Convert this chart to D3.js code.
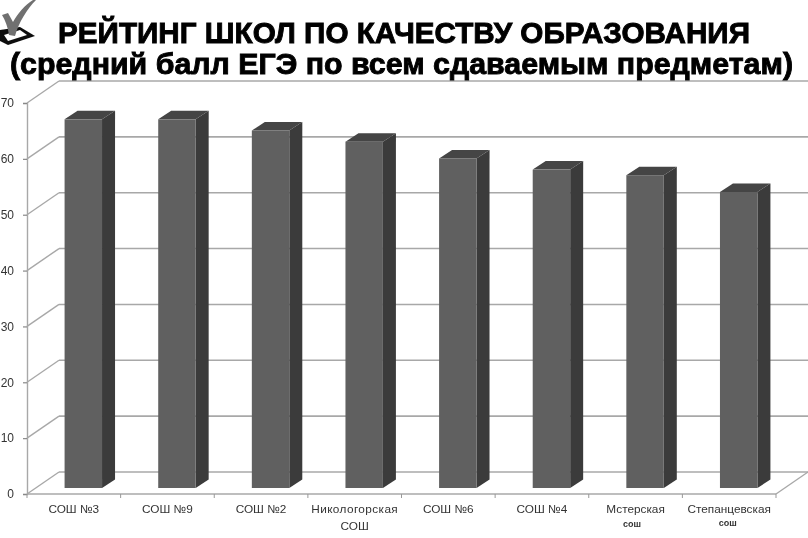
<!DOCTYPE html>
<html>
<head>
<meta charset="utf-8">
<script src="https://cdn.jsdelivr.net/npm/d3@7"></script>
<style>
    html, body { margin: 0; padding: 0; background: #fff; }
    svg { display: block; font-family: "Liberation Sans", Arial, sans-serif; }
</style>
</head>
<body>
<svg id="chart" width="808" height="538"></svg>
<script>
// Data
const schools = ["СОШ №3", "СОШ №9", "СОШ №2", "Никологорская СОШ", "СОШ №6", "СОШ №4", "Мстерская СОШ", "Степанцевская СОШ"];
const scores = [66, 66, 64, 62, 59, 57, 56, 53];
const yTicks = [0, 10, 20, 30, 40, 50, 60, 70];
const titleLines = ["РЕЙТИНГ ШКОЛ ПО КАЧЕСТВУ ОБРАЗОВАНИЯ", "(средний балл ЕГЭ по всем сдаваемым предметам)"];

const svg = d3.select("#chart");

// 3D box layout: front plane of the axes plus the offset of the back wall
const plot = { left: 27, right: 776, top: 103, bottom: 494 };
const wall = { dx: 32, dy: -22 };
const depth = { dx: 13, dy: -8.5 };
const barShift = { dx: 9.5, dy: -6 };

const x = d3.scaleBand().domain(schools).range([plot.left, plot.right]).paddingInner(0).paddingOuter(0);
const y = d3.scaleLinear().domain([0, 70]).range([plot.bottom, plot.top]);
const barWidth = x.bandwidth() * 0.4;

// Blur, the reference is a resampled photo of a slide
const defs = svg.append("defs");
defs.append("filter").attr("id", "soft").append("feGaussianBlur").attr("stdDeviation", 0.5);

const g = svg.append("g").attr("filter", "url(#soft)");

// Back wall gridlines and the slanted lines on the side wall
const grid = g.append("g");
grid.selectAll("line.back")
    .data(yTicks)
    .enter()
    .append("line")
    .attr("class", "back")
    .attr("x1", plot.left + wall.dx)
    .attr("x2", 808)
    .attr("y1", d => y(d) + wall.dy)
    .attr("y2", d => y(d) + wall.dy)
    .attr("stroke", "#a8a8a8")
    .attr("stroke-width", 1.6);

grid.selectAll("line.side")
    .data(yTicks)
    .enter()
    .append("line")
    .attr("class", "side")
    .attr("x1", plot.left)
    .attr("x2", plot.left + wall.dx)
    .attr("y1", d => y(d))
    .attr("y2", d => y(d) + wall.dy)
    .attr("stroke", "#a8a8a8")
    .attr("stroke-width", 1.4);

// Floor edge on the right
grid.append("line")
    .attr("x1", plot.right)
    .attr("x2", plot.right + wall.dx)
    .attr("y1", plot.bottom)
    .attr("y2", plot.bottom + wall.dy)
    .attr("stroke", "#a8a8a8")
    .attr("stroke-width", 1.4);

// Bars
const bars = g.selectAll("g.bar")
    .data(schools.map((s, i) => ({ school: s, score: scores[i] })))
    .enter()
    .append("g")
    .attr("class", "bar");

const barX = d => x(d.school) + (x.bandwidth() - barWidth) / 2 + barShift.dx;
const barY0 = y(0) + barShift.dy;
const barY1 = d => y(d.score) + barShift.dy;

// side face
bars.append("path")
    .attr("fill", "#3a3a3a")
    .attr("d", d => {
        const r = barX(d) + barWidth;
        return d3.line()([[r, barY1(d)], [r + depth.dx, barY1(d) + depth.dy], [r + depth.dx, barY0 + depth.dy], [r, barY0]]) + "Z";
    });

// top face
bars.append("path")
    .attr("fill", "#444444")
    .attr("d", d => {
        const l = barX(d), r = l + barWidth, t = barY1(d);
        return d3.line()([[l, t], [l + depth.dx, t + depth.dy], [r + depth.dx, t + depth.dy], [r, t]]) + "Z";
    });

// front face
bars.append("rect")
    .attr("x", barX)
    .attr("y", barY1)
    .attr("width", barWidth)
    .attr("height", d => barY0 - barY1(d))
    .attr("fill", "#606060");

// Y axis
const yAxis = g.append("g")
    .attr("transform", `translate(${plot.left},0)`)
    .call(d3.axisLeft(y).tickValues(yTicks).tickSize(4).tickPadding(9));
yAxis.select(".domain").attr("stroke", "#a8a8a8").attr("stroke-width", 1.4);
yAxis.selectAll(".tick line").attr("stroke", "#888").attr("stroke-width", 1.2);
yAxis.selectAll("text")
    .attr("fill", "#333")
    .style("font-family", "'Liberation Sans', Arial, sans-serif")
    .style("font-size", "12px");

// X axis, the tick marks sit on band borders so they are drawn by hand
const xAxis = g.append("g")
    .attr("transform", `translate(0,${plot.bottom})`);
xAxis.append("line")
    .attr("x1", plot.left)
    .attr("x2", plot.right)
    .attr("stroke", "#a8a8a8")
    .attr("stroke-width", 1.4);
xAxis.selectAll("line.tick")
    .data(schools.concat(null))
    .enter()
    .append("line")
    .attr("class", "tick")
    .attr("x1", (d, i) => plot.left + i * x.step())
    .attr("x2", (d, i) => plot.left + i * x.step())
    .attr("y1", 0)
    .attr("y2", 4)
    .attr("stroke", "#999")
    .attr("stroke-width", 1);

// Category labels
const labels = g.append("g");
const labelSize = "11.8px";
schools.forEach((name, i) => {
    const cx = x(name) + x.bandwidth() / 2;
    const m = name.match(/^(.*) (СОШ)$/);
    if (!m) {
        labels.append("text").attr("x", cx).attr("y", 513).attr("text-anchor", "middle")
            .style("font-size", labelSize).attr("fill", "#333").text(name);
    } else if (i === 3) {
        labels.append("text").attr("x", cx).attr("y", 513).attr("text-anchor", "middle")
            .style("font-size", labelSize).style("letter-spacing", "0.4px").attr("fill", "#333").text(m[1]);
        labels.append("text").attr("x", cx).attr("y", 530).attr("text-anchor", "middle")
            .style("font-size", labelSize).attr("fill", "#333").text(m[2]);
    } else {
        labels.append("text").attr("x", cx).attr("y", 513).attr("text-anchor", "middle")
            .style("font-size", labelSize).attr("fill", "#333").text(m[1]);
        // the small "сош" sits a bit off centre and at a different height in each label
        labels.append("text").attr("x", cx + (i === 6 ? -3.5 : -1.5)).attr("y", i === 6 ? 527 : 525.5).attr("text-anchor", "middle")
            .style("font-size", "9px").style("font-weight", "bold").attr("fill", "#333").text(m[2].toLowerCase());
    }
});

// Title
const title = svg.append("g").attr("filter", "url(#soft)");
title.append("text")
    .attr("x", 404)
    .attr("y", 43)
    .attr("text-anchor", "middle")
    .attr("textLength", 692)
    .attr("lengthAdjust", "spacingAndGlyphs")
    .style("font-size", "30px")
    .style("font-weight", "bold")
    .attr("fill", "#000")
    .attr("stroke", "#000")
    .attr("stroke-width", 0.9)
    .text(titleLines[0]);

title.append("text")
    .attr("x", 401.5)
    .attr("y", 74)
    .attr("text-anchor", "middle")
    .attr("textLength", 783)
    .attr("lengthAdjust", "spacingAndGlyphs")
    .style("font-size", "30px")
    .style("font-weight", "bold")
    .attr("fill", "#000")
    .attr("stroke", "#000")
    .attr("stroke-width", 0.9)
    .text(titleLines[1]);

// Check mark icon in the corner
const icon = svg.append("g").attr("filter", "url(#soft)");
icon.append("path")
    .attr("d", "M0,30 L20,27 L35,36 L8,45 L0,41 Z")
    .attr("fill", "#111");
icon.append("path")
    .attr("d", "M4,35 L20,30 L27,35 L8,41 Z")
    .attr("fill", "#fff");
icon.append("path")
    .attr("d", "M2,15 L8,13 L13,22 C18,13 25,5 33,0 L36,0 C27,9 19,22 15,36 L9,35 C8,27 5,20 2,15 Z")
    .attr("fill", "#707070");
</script>
</body>
</html>
